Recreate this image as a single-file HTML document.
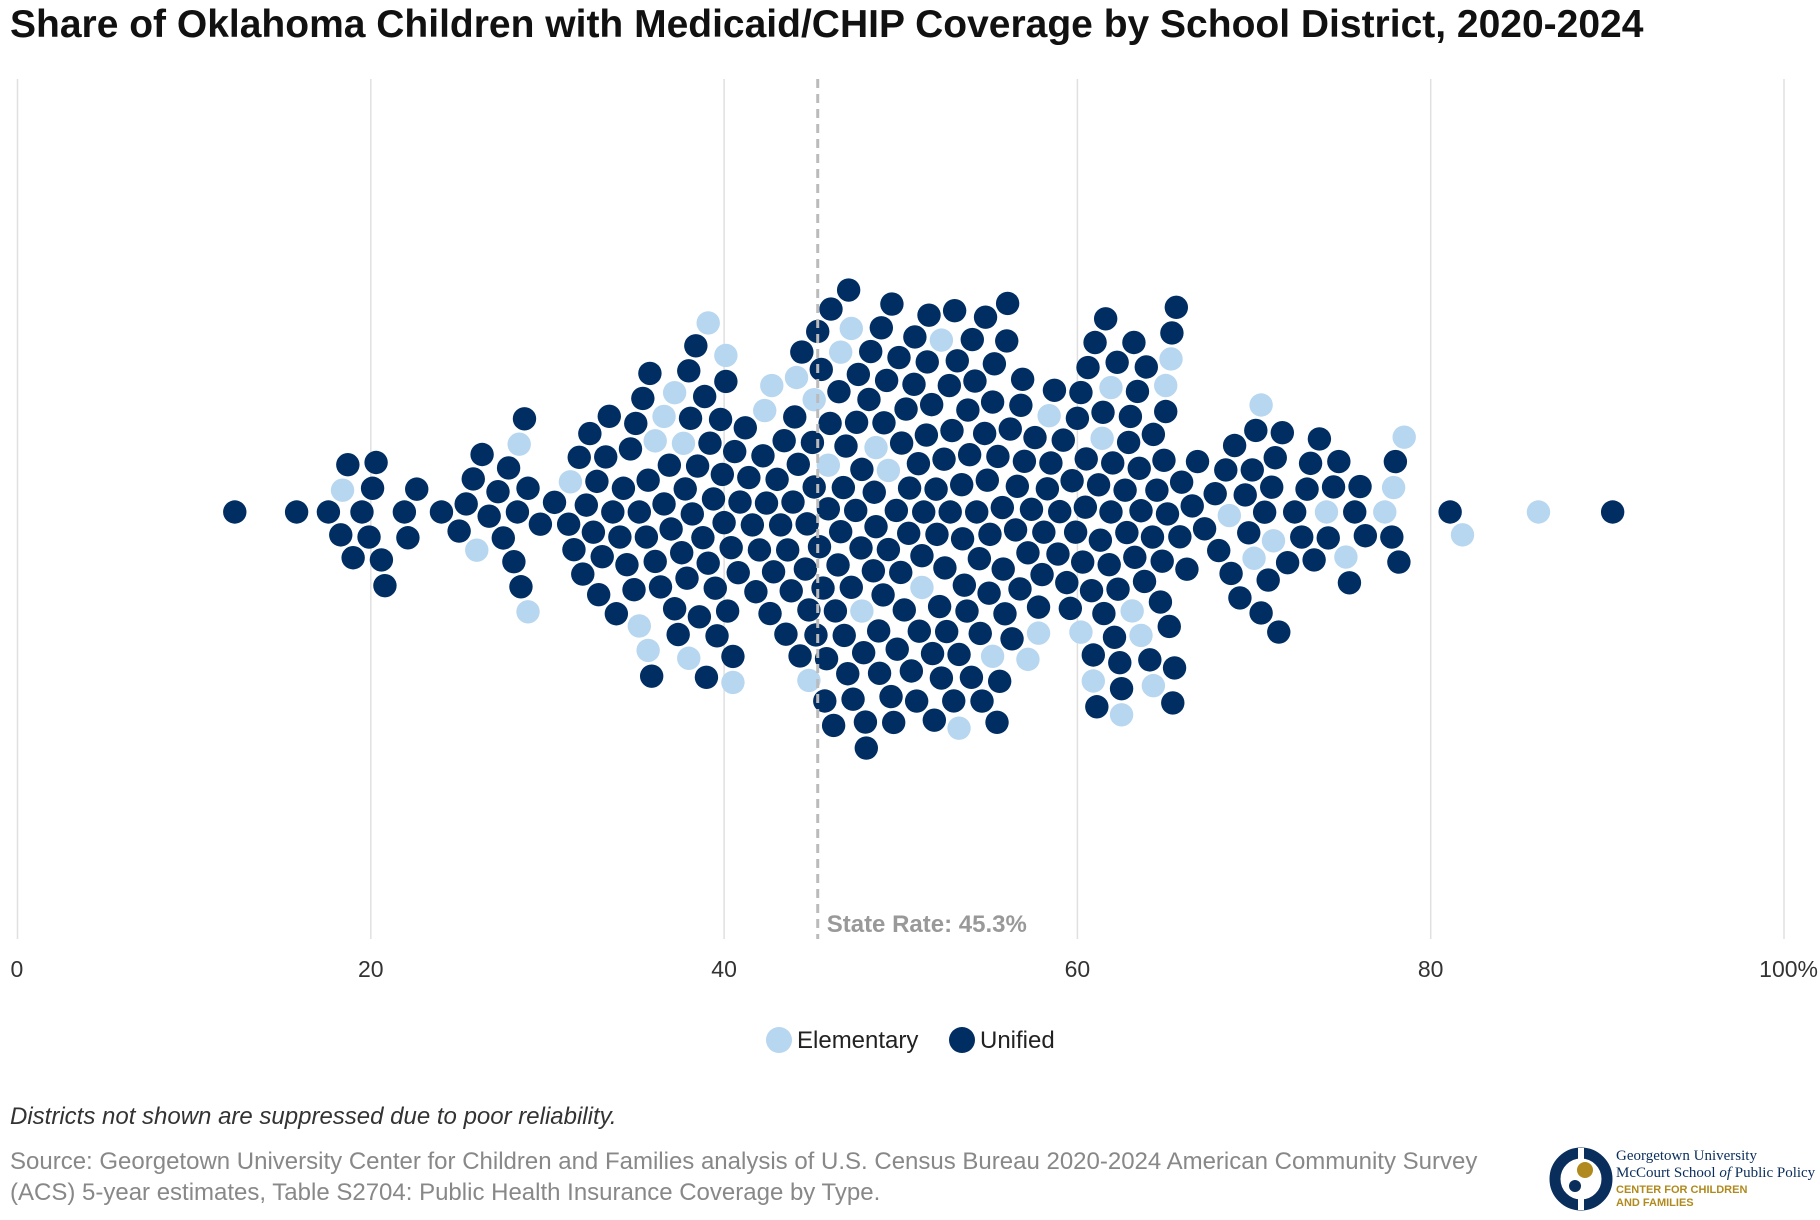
<!DOCTYPE html>
<html><head><meta charset="utf-8">
<style>
body{margin:0;background:#fff;width:1820px;height:1220px;overflow:hidden;font-family:"Liberation Sans",Arial,sans-serif;}
#wrap{position:relative;width:1820px;height:1220px;}
.t{position:absolute;white-space:nowrap;}
</style></head>
<body>
<div id="wrap">
<div class="t" style="left:10px;top:3px;font-size:39px;font-weight:bold;color:#111;">Share of Oklahoma Children with Medicaid/CHIP Coverage by School District, 2020-2024</div>
<svg id="chart" width="1820" height="1220" style="position:absolute;left:0;top:0"></svg>
<div class="t" style="left:10px;top:1103px;font-size:24px;font-style:italic;color:#333;">Districts not shown are suppressed due to poor reliability.</div>
<div class="t" style="left:10px;top:1146px;font-size:24px;color:#888;line-height:31px;">Source: Georgetown University Center for Children and Families analysis of U.S. Census Bureau 2020-2024 American Community Survey<br>(ACS) 5-year estimates, Table S2704: Public Health Insurance Coverage by Type.</div>
<div style="position:absolute;left:1548px;top:1146px;width:270px;height:70px;">
<svg width="66" height="66" style="position:absolute;left:0;top:0"><circle cx="33" cy="33" r="26" fill="none" stroke="#0a2e5c" stroke-width="11"/><rect x="30" y="2" width="6" height="62" fill="#fff"/><circle cx="37" cy="24" r="8" fill="#b08a1e"/><circle cx="27" cy="40" r="6" fill="#0a2e5c"/></svg>
<div class="t" style="left:68px;top:2px;font-family:'Liberation Serif',serif;font-size:15px;color:#0a2e5c;line-height:17px;">Georgetown University<br>McCourt School <i>of</i> Public Policy</div>
<div class="t" style="left:68px;top:38px;font-size:11px;color:#b08a1e;line-height:13px;font-weight:bold;">CENTER FOR CHILDREN<br>AND FAMILIES</div>
</div>
</div>
<script>
const unified = [12.3,15.8,17.6,18.3,18.7,19.0,19.5,19.9,20.1,20.3,20.6,20.8,21.9,22.1,22.6,24.0,25.0,25.4,25.8,26.3,26.7,27.2,27.5,27.8,28.1,28.3,28.5,28.7,28.9,29.6,30.4,31.2,31.5,31.8,32.0,32.2,32.4,32.6,32.8,32.9,33.1,33.3,33.5,33.7,33.9,34.1,34.3,34.5,34.7,34.9,35.0,35.2,35.4,35.6,35.7,35.8,35.9,36.1,36.4,36.6,36.9,37.0,37.2,37.4,37.6,37.8,37.9,38.0,38.1,38.2,38.4,38.5,38.6,38.8,38.9,39.0,39.1,39.2,39.4,39.5,39.6,39.8,39.9,40.0,40.1,40.2,40.4,40.5,40.6,40.8,40.9,41.2,41.4,41.6,41.8,42.0,42.2,42.4,42.6,42.8,43.0,43.2,43.4,43.5,43.6,43.8,43.9,44.0,44.2,44.3,44.4,44.6,44.7,44.8,45.0,45.1,45.2,45.3,45.4,45.5,45.6,45.7,45.8,45.9,46.0,46.05,46.2,46.3,46.45,46.5,46.6,46.75,46.8,46.9,47.0,47.05,47.2,47.3,47.45,47.5,47.6,47.75,47.8,47.9,48.0,48.05,48.2,48.3,48.45,48.5,48.6,48.75,48.8,48.9,49.0,49.05,49.2,49.3,49.45,49.5,49.6,49.75,49.8,49.9,50.0,50.05,50.2,50.3,50.45,50.5,50.6,50.75,50.8,50.9,51.0,51.05,51.2,51.3,51.45,51.5,51.6,51.75,51.8,51.9,52.0,52.05,52.2,52.3,52.45,52.5,52.6,52.75,52.8,52.9,53.0,53.05,53.2,53.3,53.45,53.5,53.6,53.75,53.8,53.9,54.0,54.05,54.2,54.3,54.45,54.5,54.6,54.75,54.8,54.9,55.0,55.05,55.2,55.3,55.45,55.5,55.6,55.75,55.8,55.9,56.0,56.05,56.2,56.3,56.5,56.6,56.75,56.8,56.9,57.0,57.2,57.4,57.6,57.8,58.0,58.1,58.3,58.5,58.7,58.9,59.0,59.2,59.4,59.6,59.7,59.9,60.0,60.2,60.3,60.45,60.5,60.6,60.8,60.9,61.0,61.1,61.2,61.3,61.45,61.5,61.6,61.8,61.9,62.0,62.1,62.25,62.3,62.4,62.5,62.7,62.8,62.9,63.0,63.2,63.25,63.4,63.5,63.6,63.8,63.9,64.1,64.25,64.3,64.5,64.7,64.8,64.9,65.0,65.1,65.2,65.35,65.4,65.5,65.6,65.8,65.9,66.2,66.5,66.8,67.2,67.8,68.0,68.4,68.7,68.9,69.2,69.5,69.7,69.9,70.1,70.4,70.6,70.8,71.0,71.2,71.4,71.6,71.9,72.3,72.7,73.0,73.2,73.4,73.7,74.2,74.5,74.8,75.4,75.7,76.0,76.3,77.8,78.0,78.2,81.1,90.3];
const elementary = [18.4,26.0,28.4,28.9,31.3,35.2,35.7,36.1,36.6,37.2,37.7,38.0,39.1,40.1,40.5,42.3,42.7,44.1,44.8,45.1,45.9,46.6,47.2,47.8,48.6,49.3,51.2,52.3,53.3,55.2,57.2,57.8,58.4,60.2,60.9,61.4,61.9,62.5,63.1,63.6,64.3,65.0,65.3,68.6,70.0,70.4,71.1,74.1,75.2,77.4,77.9,78.5,81.8,86.1];
const xTicks = [0,20,40,60,80,100];
const xTickLabels = ["0","20","40","60","80","100%"];
const stateRate = [45.3];

const NS="http://www.w3.org/2000/svg";
const svg=document.getElementById('chart');
const X0=17.5,X1=1784,TOP=79,BOT=939,CY=512,R=11.7,D=26;
function xScale(v){return X0+(X1-X0)*v/100;}
function mk(tag,attrs){const e=document.createElementNS(NS,tag);for(const k in attrs)e.setAttribute(k,attrs[k]);svg.appendChild(e);return e;}

xTicks.forEach((t,i)=>{
  const g=mk('line',{x1:xScale(t),x2:xScale(t),y1:TOP,y2:BOT,stroke:'#e0e0e0','stroke-width':1.5});
  
  
  const tx=mk('text',{x:xScale(t),y:977,'text-anchor':i==0?'start':(i==xTicks.length-1?'end':'middle'),'font-size':23,fill:'#333','font-family':'Liberation Sans, sans-serif'});
  if(i==0)tx.setAttribute('x',xScale(t)-7);
  if(i==xTicks.length-1)tx.setAttribute('x',xScale(t)+34);
  tx.textContent=xTickLabels[i];
  
  
});

const pts=[];
unified.forEach(v=>pts.push({v,c:'u'}));
elementary.forEach(v=>pts.push({v,c:'e'}));
pts.sort((a,b)=>a.v-b.v);
const placed=[];
pts.forEach(p=>{
  const x=xScale(p.v);
  const near=placed.filter(q=>Math.abs(q.x-x)<D);
  let best=null;
  const cands=[0];
  near.forEach(q=>{const dy=Math.sqrt(Math.max(0,D*D-(q.x-x)*(q.x-x)));cands.push(q.y+dy,q.y-dy);});
  cands.sort((a,b)=>Math.abs(a)-Math.abs(b));
  for(const y of cands){
    if(near.every(q=>(q.x-x)*(q.x-x)+(q.y-y)*(q.y-y)>=D*D-0.01)){best=y;break;}
  }
  placed.push({x,y:best,c:p.c});
});
['e','u'].forEach(cat=>{
  placed.filter(p=>p.c===cat).forEach(p=>{
    const c=mk('circle',{cx:p.x,cy:CY+p.y,r:R,fill:cat==='u'?'#002d62':'#b7d6f0'});
    
    
  });
});

const sx=xScale(stateRate[0]);
const sl=mk('line',{x1:sx,x2:sx,y1:TOP,y2:BOT,stroke:'#bbb','stroke-width':3,'stroke-dasharray':'9,6'});


const st=mk('text',{x:sx+9,y:932,'font-size':24,'font-weight':'bold',fill:'#999','font-family':'Liberation Sans, sans-serif'});
st.textContent='State Rate: '+stateRate[0]+'%';



const lg=[['Elementary','#b7d6f0',779],['Unified','#002d62',962]];
lg.forEach(l=>{
  const c=mk('circle',{cx:l[2],cy:1040,r:13,fill:l[1]});
  
  
  const t=mk('text',{x:l[2]+18,y:1048,'font-size':24,fill:'#222','font-family':'Liberation Sans, sans-serif'});
  t.textContent=l[0];
  
  
});
</script>
</body></html>
